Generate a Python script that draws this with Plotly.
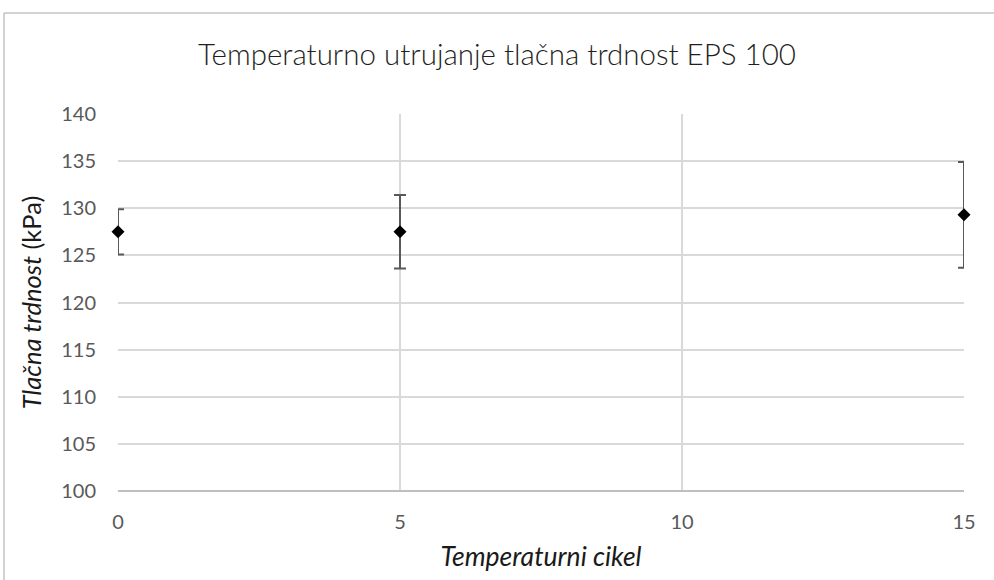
import plotly.graph_objects as go

# Temperature cycles and compressive strength of EPS 100
cycles = [0, 5, 15]
strength = [127.5, 127.5, 129.3]
strength_err = [2.4, 3.9, 5.6]

x_ticks = [0, 5, 10, 15]
y_ticks = [100, 105, 110, 115, 120, 125, 130, 135, 140]

W, H = 994, 580
L, R, T, B = 118, 30, 114, 89
pw, ph = W - L - R, H - T - B

font_main = "Lato, Open Sans, sans-serif"

fig = go.Figure()

# error bars
fig.add_trace(go.Scatter(
    x=cycles, y=strength, mode="markers",
    marker=dict(size=1, color="rgba(0,0,0,0)"),
    error_y=dict(type="data", array=strength_err, visible=True,
                 color="#595959", thickness=2, width=6),
    cliponaxis=True, showlegend=False, hoverinfo="skip",
))

# data markers
fig.add_trace(go.Scatter(
    x=cycles, y=strength, mode="markers",
    marker=dict(symbol="diamond", size=10, color="black"),
    cliponaxis=False, showlegend=False,
))

# outer chart border
x0 = (4 - L) / pw
x1 = (W + 5 - L) / pw
y_top = (H - B - 13) / ph
y_bot = (H - B - (H + 5)) / ph
fig.add_shape(type="rect", xref="paper", yref="paper",
              x0=x0, x1=x1, y0=y_bot, y1=y_top,
              line=dict(color="#a6a6a6", width=1), layer="below")

fig.update_layout(
    width=W, height=H,
    margin=dict(l=L, r=R, t=T, b=B),
    paper_bgcolor="white", plot_bgcolor="white",
    title=dict(text="Temperaturno utrujanje tlačna trdnost EPS 100",
               x=0.5, xanchor="center", y=1 - 55 / H, yanchor="middle",
               font=dict(family=font_main, size=29.5, color="#1f1f1f", weight=300)),
    xaxis=dict(range=[0, 15], tickvals=x_ticks, showgrid=True,
               gridcolor="#d9d9d9", gridwidth=1.5, zeroline=False,
               showline=False, ticks="", ticklabelstandoff=17,
               tickfont=dict(family=font_main, size=20, color="#595959"),
               title=dict(text="<i>Temperaturni cikel</i>", standoff=15,
                          font=dict(family=font_main, size=26.5, color="#1a1a1a"))),
    yaxis=dict(range=[100, 140], tickvals=y_ticks, showgrid=True,
               gridcolor="#d9d9d9", gridwidth=1.5, zeroline=False,
               showline=False, ticks="", ticklabelstandoff=21,
               tickfont=dict(family=font_main, size=20, color="#595959"),
               title=dict(text="<i>Tlačna trdnost</i> (kPa)", standoff=12,
                          font=dict(family=font_main, size=25.5, color="#1a1a1a"))),
)

# bottom axis line, slightly darker than the grid
fig.add_shape(type="line", xref="paper", yref="paper", x0=0, x1=1, y0=0, y1=0,
              line=dict(color="#bfbfbf", width=2))

fig.write_html("out.html")
